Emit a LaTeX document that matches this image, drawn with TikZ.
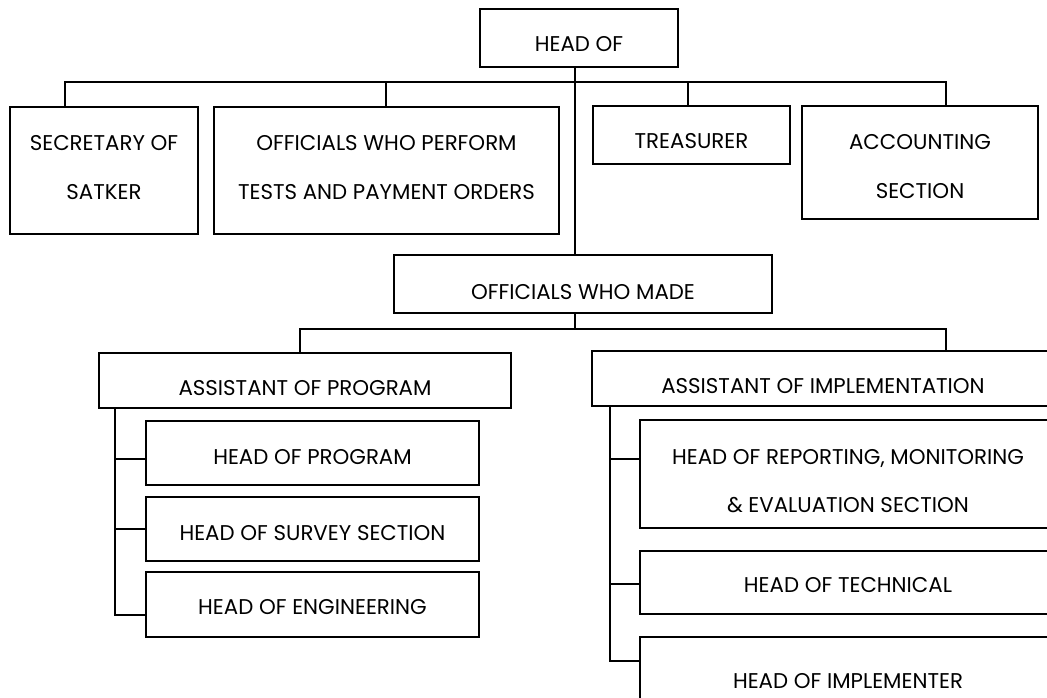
\documentclass[tikz,border=0pt]{standalone}
\usepackage{fontspec}
\setmainfont{Poppins}
\usepackage{tikz}
\tikzset{
	unitbox/.style={draw, line width=1.4pt, inner sep=0pt, align=center, font=\fontsize{16}{17}\selectfont},
	onerow/.style={text height=#1, text depth=0pt},
	onerow/.default=20pt,
	link/.style={line width=1.2pt},
}
\def\orgbox[#1](#2)(#3,#4)(#5,#6)#7{\node[unitbox, #1, minimum width={(#5-#3)*0.75pt}, minimum height={(#6-#4)*0.75pt}] (#2) at ({(#3+#5)/2}, {(#4+#6)/2}) {#7};}

\begin{document}
\begin{tikzpicture}[x=0.75pt, y=-0.75pt]
			%%%%% START %%%%%
			\clip (0, 0) rectangle (1047, 698);
			
			\orgbox[onerow](head)(480, 9)(678, 67){HEAD OF}
			
			\orgbox[](sec)(10, 107)(198, 234){SECRETARY OF\\[19.5pt]SATKER\rule[-4.5pt]{0pt}{4.5pt}}
			\orgbox[](perf)(214, 107)(559, 234){OFFICIALS WHO PERFORM\\[19.5pt]TESTS AND PAYMENT ORDERS\rule[-4.5pt]{0pt}{4.5pt}}
			\orgbox[onerow](treas)(593, 106)(790, 164){TREASURER}
			\orgbox[](acc)(802, 106)(1038, 219){\rule{0pt}{17pt}ACCOUNTING\\[19.5pt]SECTION}
			
			\orgbox[onerow=23pt](made)(394, 255)(772, 313){OFFICIALS WHO MADE}
			
			\orgbox[onerow=23pt](asprog)(99, 353)(511, 408){ASSISTANT OF PROGRAM}
			\orgbox[onerow=23pt](asimp)(592, 351)(1054, 406){ASSISTANT OF IMPLEMENTATION}
			
			\orgbox[onerow=17pt](hprog)(146, 421)(479, 485){HEAD OF PROGRAM}
			\orgbox[onerow=17pt](hsurv)(146, 497)(479, 561){HEAD OF SURVEY SECTION}
			\orgbox[onerow=15pt](heng)(146, 572)(479, 637){HEAD OF ENGINEERING}
			
			\orgbox[](hrep)(640, 420)(1056, 528){\rule{0pt}{22pt}HEAD OF REPORTING, MONITORING\\[19.5pt]\&{} EVALUATION SECTION}
			\orgbox[onerow=15pt](htech)(640, 551)(1056, 614){HEAD OF TECHNICAL}
			\orgbox[onerow=11pt](himpl)(640, 637)(1056, 725){HEAD OF IMPLEMENTER}
			
			% top level
			\coordinate (spine) at (575, 0);
			\coordinate (t1) at (65, 82);
			\coordinate (t2) at (386, 82);
			\coordinate (t3) at (688, 82);
			\coordinate (t4) at (946, 82);
			\draw[link] (spine |- head.south) -- (spine |- made.north);
			\draw[link] (t1 |- sec.north) -- (t1) -- (t4) -- (t4 |- acc.north);
			\draw[link] (t2) -- (t2 |- perf.north);
			\draw[link] (t3) -- (t3 |- treas.north);
			
			% second level
			\coordinate (m1) at (300, 329);
			\coordinate (m2) at (946, 329);
			\draw[link] (spine |- made.south) -- (spine |- m1);
			\draw[link] (m1 |- asprog.north) -- (m1) -- (m2) -- (m2 |- asimp.north);
			
			% program branch
			\coordinate (l1) at (115, 459);
			\coordinate (l2) at (115, 529);
			\coordinate (l3) at (115, 615);
			\draw[link] (l1 |- asprog.south) -- (l3) -- (l3 -| heng.west);
			\draw[link] (l1) -- (l1 -| hprog.west);
			\draw[link] (l2) -- (l2 -| hsurv.west);
			
			% implementation branch
			\coordinate (r1) at (610, 459);
			\coordinate (r2) at (610, 584);
			\coordinate (r3) at (610, 661);
			\draw[link] (r1 |- asimp.south) -- (r3) -- (r3 -| himpl.west);
			\draw[link] (r1) -- (r1 -| hrep.west);
			\draw[link] (r2) -- (r2 -| htech.west);
			
			%%%%% END %%%%%
\end{tikzpicture}
\end{document}
